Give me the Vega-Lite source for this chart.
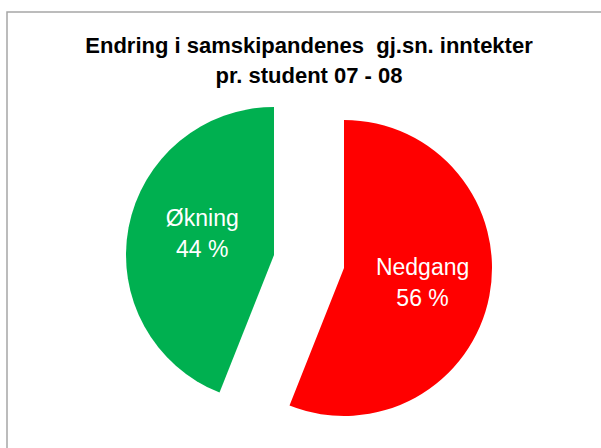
{
  "$schema": "https://vega.github.io/schema/vega-lite/v6.json",
  "width": 604,
  "height": 499,
  "autosize": {"type": "none"},
  "padding": {"left": 7, "top": 12, "right": 0, "bottom": 0},
  "background": "white",
  "view": {"stroke": "#a6a6a6", "strokeWidth": 1.5},
  "config": {"view": {"stroke": "#a6a6a6", "strokeWidth": 1.5}},
  "title": {
    "text": ["Endring i samskipandenes\u00a0 gj.sn. inntekter", "pr. student 07 - 08"],
    "font": "Liberation Sans",
    "fontSize": 22,
    "fontWeight": "bold",
    "color": "#000000",
    "lineHeight": 30,
    "offset": -76,
    "anchor": "middle"
  },
  "data": {
    "values": [
      {"kategori": "Nedgang", "andel": 56, "etikett": "Nedgang\n56 %"},
      {"kategori": "Økning", "andel": 44, "etikett": "Økning\n44 %"}
    ]
  },
  "layer": [
    {
      "transform": [
        {"stack": "andel", "groupby": [], "sort": [{"field": "kategori", "order": "ascending"}], "as": ["start", "slutt"]},
        {"filter": "datum.kategori == 'Nedgang'"}
      ],
      "mark": {"type": "arc", "outerRadius": 148, "color": "#ff0000", "xOffset": 35, "yOffset": 6.5},
      "encoding": {
        "theta": {"field": "start", "type": "quantitative", "scale": {"domain": [0, 100]}},
        "theta2": {"field": "slutt"}
      }
    },
    {
      "transform": [
        {"stack": "andel", "groupby": [], "sort": [{"field": "kategori", "order": "ascending"}], "as": ["start", "slutt"]},
        {"filter": "datum.kategori == 'Økning'"}
      ],
      "mark": {"type": "arc", "outerRadius": 148, "color": "#00b050", "xOffset": -35, "yOffset": -6.5},
      "encoding": {
        "theta": {"field": "start", "type": "quantitative", "scale": {"domain": [0, 100]}},
        "theta2": {"field": "slutt"}
      }
    },
    {
      "mark": {"type": "text", "radius": 80, "xOffset": 35, "yOffset": 6.5, "dy": -15, "color": "#ffffff", "font": "Liberation Sans", "fontSize": 23, "lineBreak": "\n", "lineHeight": 31, "align": "center", "baseline": "middle"},
      "encoding": {
        "theta": {"field": "andel", "type": "quantitative", "stack": true, "scale": {"domain": [0, 100]}},
        "order": {"field": "kategori", "sort": "ascending"},
        "text": {"condition": {"test": "datum.kategori == 'Nedgang'", "field": "etikett"}, "value": ""}
      }
    },
    {
      "mark": {"type": "text", "radius": 73, "xOffset": -35, "yOffset": -6.5, "dy": -22, "color": "#ffffff", "font": "Liberation Sans", "fontSize": 23, "lineBreak": "\n", "lineHeight": 31, "align": "center", "baseline": "middle"},
      "encoding": {
        "theta": {"field": "andel", "type": "quantitative", "stack": true, "scale": {"domain": [0, 100]}},
        "order": {"field": "kategori", "sort": "ascending"},
        "text": {"condition": {"test": "datum.kategori == 'Økning'", "field": "etikett"}, "value": ""}
      }
    }
  ]
}
